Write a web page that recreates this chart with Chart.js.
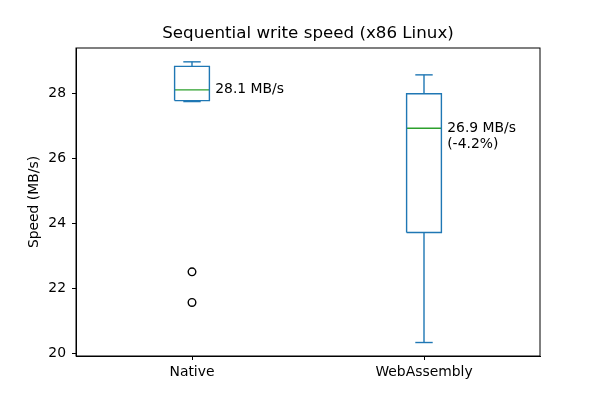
<!DOCTYPE html>
<html>
<head>
<meta charset="utf-8">
<script src="https://cdn.jsdelivr.net/npm/chart.js@4"></script>
<style>
html,body{margin:0;padding:0;background:#fff;}
#wrap{width:600px;height:400px;}
</style>
</head>
<body>
<div id="wrap"><canvas id="c" width="600" height="400"></canvas></div>
<script>
const categories = ["Native", "WebAssembly"];
const q1 = [27.77, 23.72];
const medians = [28.10, 26.92];
const q3 = [28.82, 27.98];
const whiskerLow = [27.74, 20.34];
const whiskerHigh = [28.96, 28.56];
const outliers = [[22.51, 21.57], []];
const annotations = [["28.1 MB/s"], ["26.9 MB/s", "(-4.2%)"]];
const yTicks = [20, 22, 24, 26, 28];
const chartTitle = 'Sequential write speed (x86 Linux)';

const BLUE = '#1f77b4', GREEN = '#2ca02c';
const HALF_BOX = 0.075, HALF_CAP = 0.0375, LW = 1.4;

function lineDs(points, color) {
  return {type: 'line', data: points, borderColor: color, borderWidth: LW,
          pointRadius: 0, fill: false, tension: 0, showLine: true};
}

const datasets = [];
categories.forEach((cat, i) => {
  const p = i + 1;
  datasets.push(lineDs([{x: p, y: q3[i]}, {x: p, y: whiskerHigh[i]}], BLUE));
  datasets.push(lineDs([{x: p, y: q1[i]}, {x: p, y: whiskerLow[i]}], BLUE));
  datasets.push(lineDs([{x: p - HALF_CAP, y: whiskerHigh[i]}, {x: p + HALF_CAP, y: whiskerHigh[i]}], BLUE));
  datasets.push(lineDs([{x: p - HALF_CAP, y: whiskerLow[i]}, {x: p + HALF_CAP, y: whiskerLow[i]}], BLUE));
  datasets.push(lineDs([
    {x: p - HALF_BOX, y: q1[i]}, {x: p + HALF_BOX, y: q1[i]},
    {x: p + HALF_BOX, y: q3[i]}, {x: p - HALF_BOX, y: q3[i]},
    {x: p - HALF_BOX, y: q1[i]}], BLUE));
  datasets.push(lineDs([{x: p - HALF_BOX, y: medians[i]}, {x: p + HALF_BOX, y: medians[i]}], GREEN));
  if (outliers[i].length) {
    datasets.push({type: 'scatter', data: outliers[i].map(v => ({x: p, y: v})),
      pointRadius: 3.8, pointBorderColor: '#000', pointBackgroundColor: 'rgba(0,0,0,0)',
      pointBorderWidth: LW, showLine: false});
  }
});

const frame = {
  id: 'frame',
  afterDatasetsDraw(chart) {
    const {ctx, chartArea: a, scales} = chart;
    ctx.save();
    ctx.strokeStyle = '#000';
    ctx.lineWidth = 1;
    ctx.strokeRect(a.left, a.top, a.right - a.left, a.bottom - a.top);
    ctx.fillStyle = '#000';
    ctx.font = '16.7px "DejaVu Sans"';
    ctx.textAlign = 'center';
    ctx.textBaseline = 'middle';
    ctx.fillText(chartTitle, (a.left + a.right) / 2, a.top - 14);
    ctx.font = '13.9px "DejaVu Sans"';
    ctx.textAlign = 'left';
    annotations.forEach((lines, i) => {
      const x = scales.x.getPixelForValue(i + 1 + 0.1);
      const y = scales.y.getPixelForValue(medians[i]);
      lines.forEach((t, k) => ctx.fillText(t, x, y + k * 16.2));
    });
    ctx.restore();
  }
};

Chart.defaults.font.family = '"DejaVu Sans"';
Chart.defaults.color = '#000';

new Chart(document.getElementById('c'), {
  type: 'line',
  data: {datasets},
  plugins: [frame],
  options: {
    responsive: false,
    animation: false,
    layout: {padding: {left: 0, right: 60, top: 48, bottom: 0}},
    plugins: {
      legend: {display: false},
      tooltip: {enabled: false},
      title: {display: false}
    },
    scales: {
      x: {
        type: 'linear', min: 0.5, max: 2.5,
        afterBuildTicks: s => { s.ticks = categories.map((c, i) => ({value: i + 1})); },
        afterFit: s => { s.height = 44; },
        ticks: {callback: (v) => categories[v - 1] ?? '', font: {size: 13.9}, color: '#000', padding: 4, maxRotation: 0, autoSkip: false},
        grid: {drawOnChartArea: false, tickLength: 4, color: '#000', lineWidth: 1},
        border: {color: '#000', width: 1}
      },
      y: {
        type: 'linear', min: 19.926, max: 29.385,
        afterBuildTicks: s => { s.ticks = yTicks.map(v => ({value: v})); },
        afterFit: s => { s.width = 76; },
        ticks: {font: {size: 13.9}, color: '#000', padding: 6},
        grid: {drawOnChartArea: false, tickLength: 4, color: '#000', lineWidth: 1},
        border: {color: '#000', width: 1},
        title: {display: true, text: 'Speed (MB/s)', font: {size: 13.9}, color: '#000', padding: {top: 26, bottom: 0}}
      }
    }
  }
});
</script>
</body>
</html>
